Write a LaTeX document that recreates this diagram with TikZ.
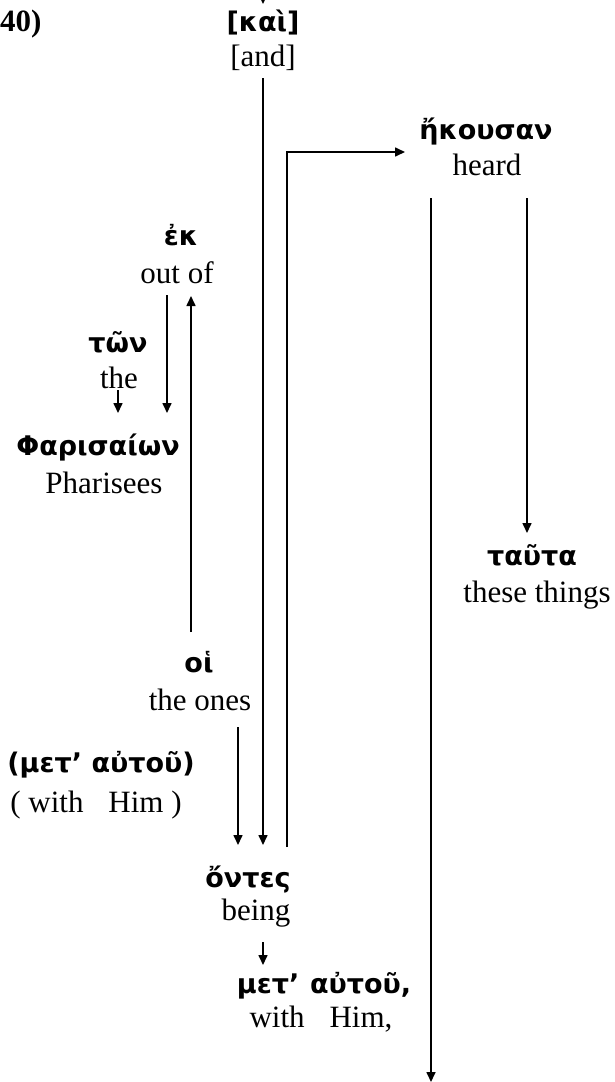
\documentclass[tikz,border=0pt]{standalone}
\usepackage{fontspec}
\setmainfont{Liberation Serif}
\newfontfamily\gk{DejaVu Sans}
\usetikzlibrary{arrows.meta}
\tikzset{
  en/.style={font=\fontsize{31}{36}\selectfont, inner sep=0pt, anchor=base},
  gr/.style={font=\gk\bfseries\fontsize{27}{32}\selectfont, inner sep=0pt, anchor=base},
  conn/.style={line width=1.6pt, -{Triangle[length=10pt,width=9pt]}},
  plainline/.style={line width=1.6pt}
}
\begin{document}
\begin{tikzpicture}[x=1pt,y=-1pt]
\useasboundingbox (0,0) rectangle (614,1082);
% texts
\node[en, font=\fontsize{31}{36}\selectfont\bfseries, anchor=base west] (n40) at (0,31) {40)};
\node[gr] (kai) at (263,31) {[καὶ]};
\node[en] (and) at (263,66) {[and]};
\node[gr] (ekousan) at (486,139) {ἤκουσαν};
\node[en] (heard) at (487,175) {heard};
\node[gr] (ek) at (181,245) {ἐκ};
\node[en] (outof) at (177,283) {out of};
\node[gr] (ton) at (118,352) {τῶν};
\node[en] (the) at (119,388) {the};
\node[gr] (phar) at (98,455) {Φαρισαίων};
\node[en] (pharE) at (104,493) {Pharisees};
\node[gr] (tauta) at (532,565) {ταῦτα};
\node[en] (tautaE) at (537,602) {these things};
\node[gr] (hoi) at (199,672) {οἱ};
\node[en] (hoiE) at (200,710) {the ones};
\node[gr] (met1) at (101,772) {(μετ’ αὐτοῦ)};
\node[en] (met1E) at (96,812) {( with\hspace{0.8em}Him )};
\node[gr] (ontes) at (248,887) {ὄντες};
\node[en] (being) at (256,920) {being};
\node[gr] (met2) at (324,993) {μετ’\hspace{0.4em}αὐτοῦ,};
\node[en] (met2E) at (321,1027) {with\hspace{0.8em}Him,};
% connector end points
\coordinate (topS) at (263,-20);
\coordinate (topE) at (263,4);
\coordinate (kaiS) at (263,78);
\coordinate (kaiE) at (263,845);
\coordinate (hS) at (287,847);
\coordinate (hE) at (405,152);
\coordinate (oiS) at (238,727);
\coordinate (oiE) at (238,845);
\coordinate (upS) at (191,632);
\coordinate (upE) at (191,296);
\coordinate (ekS) at (167,295);
\coordinate (ekE) at (167,413);
\coordinate (tonS) at (118,390);
\coordinate (tonE) at (118,413);
\coordinate (taS) at (527,198);
\coordinate (taE) at (527,533);
\coordinate (lgS) at (431,198);
\coordinate (lgE) at (431,1082);
\coordinate (bgS) at (263,942);
\coordinate (bgE) at (263,965);
% connectors
\draw[conn] (topS) -- (topE);
\draw[conn] (kaiS) -- (kaiE);
\draw[conn] (hS) |- (hE);
\draw[conn] (oiS) -- (oiE);
\draw[conn] (upS) -- (upE);
\draw[conn] (ekS) -- (ekE);
\draw[conn] (tonS) -- (tonE);
\draw[conn] (taS) -- (taE);
\draw[conn] (lgS) -- (lgE);
\draw[conn] (bgS) -- (bgE);
\end{tikzpicture}
\end{document}
